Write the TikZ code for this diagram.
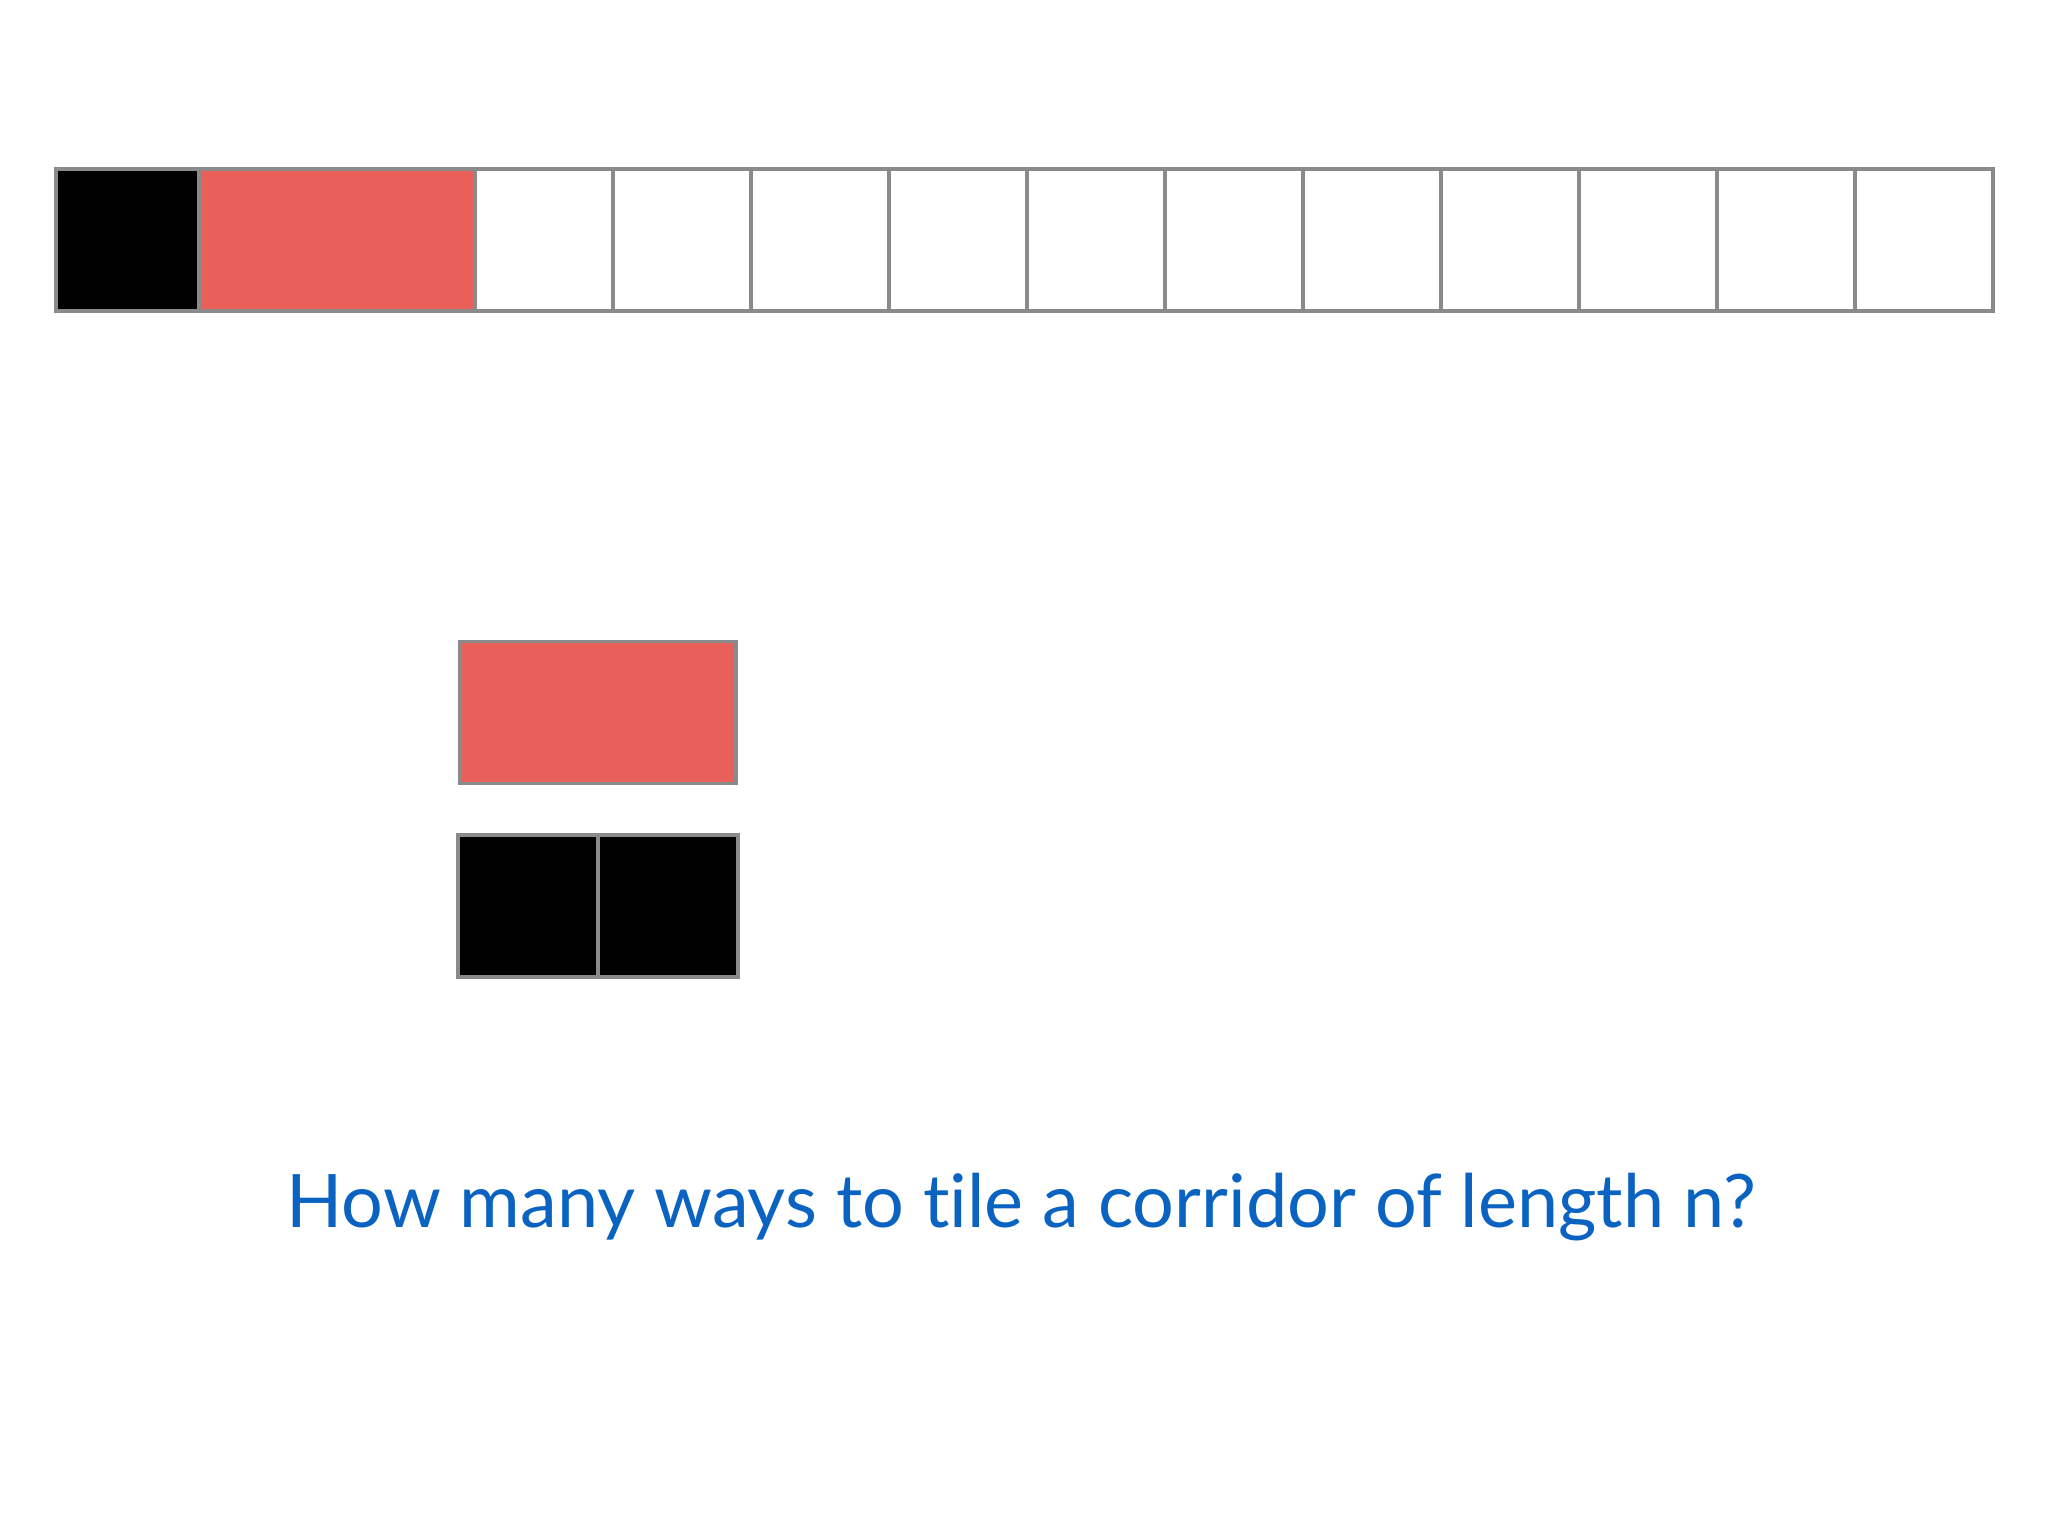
\documentclass[tikz,border=0pt]{standalone}
\usepackage{fontspec}
\newfontfamily\handfont{Lato}[Ligatures=NoCommon]
\usetikzlibrary{positioning}
\definecolor{tilered}{HTML}{E9605A}
\definecolor{edgegray}{HTML}{8A8A8A}
\definecolor{inkblue}{HTML}{0B63C1}
\tikzset{
  cell/.style={draw=edgegray, line width=1pt, minimum width=1.38cm, minimum height=1.42cm, inner sep=0pt, outer sep=0pt},
  blackcell/.style={cell, fill=black},
  redtile/.style={cell, fill=tilered, minimum width=2.76cm},
  question/.style={inkblue, font=\handfont\fontsize{21}{25}\selectfont}
}
\begin{document}
\begin{tikzpicture}
  \useasboundingbox[fill=white] (0,0) rectangle (20.48,15.36);
  % the corridor
  \node[blackcell, anchor=south west, minimum width=1.43cm] (b0) at (0.56,12.25) {};
  \node[redtile, right=0pt of b0] (r0) {};
  \node[cell, right=0pt of r0] (c1) {};
  \foreach \i [count=\j from 1] in {2,...,11}
    \node[cell, right=0pt of c\j] (c\i) {};
  % the two tiles
  \node[redtile] (rt) at (5.98,8.235) {};
  \node[blackcell, minimum width=1.40cm] (bt1) at (5.28,6.30) {};
  \node[blackcell, minimum width=1.40cm, right=0pt of bt1] (bt2) {};
  \node[question, anchor=base] (q) at (10.21,3.08) {How many ways to tile a corridor of length n?};
\end{tikzpicture}
\end{document}
